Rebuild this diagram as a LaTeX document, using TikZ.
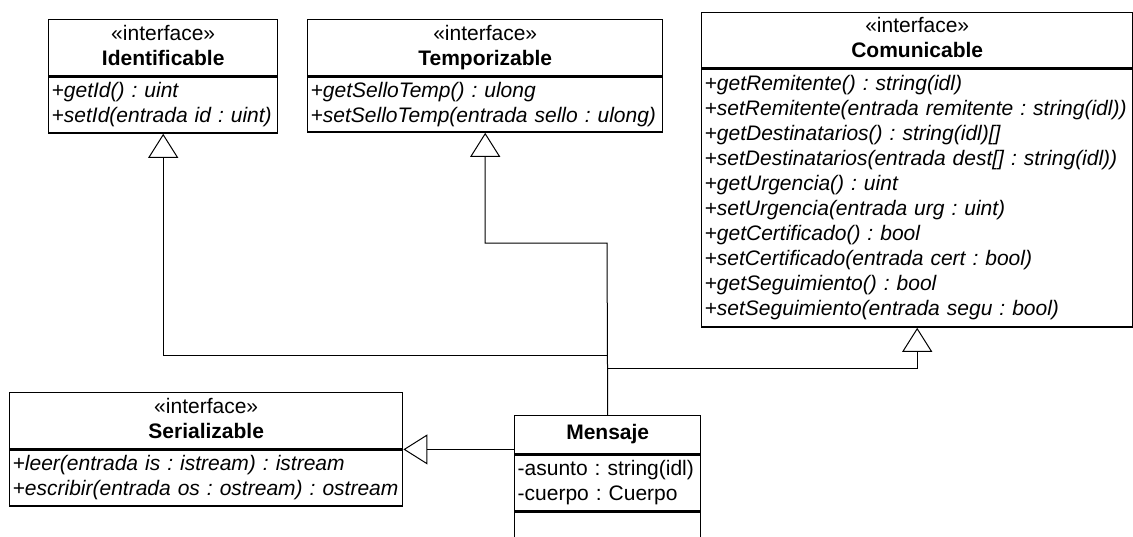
\documentclass[tikz,border=0pt]{standalone}
\usepackage{fontspec}
\setmainfont{Liberation Sans}
\usetikzlibrary{arrows.meta}
\frenchspacing
\begin{document}
\begin{tikzpicture}[x=1pt,y=-1pt,
  every node/.style={font=\fontsize{21}{25}\selectfont},
  comp/.style={draw, line width=1.4pt, anchor=north west, inner xsep=3pt, inner ysep=0pt, align=left},
  head/.style={comp, align=center},
  ops/.style={comp, font=\fontsize{21}{25}\selectfont\itshape},
  gen/.style={line width=1pt, -{Triangle[open, length=24pt, width=30pt, line width=1pt]}}]
\fill[white] (0,0) rectangle (1133,536);
\useasboundingbox (0,0) rectangle (1133,536);

% Identificable
\node[head, text width=223pt, minimum height=56pt] (iH) at (48,19)
  {\strut«interface»\\\strut\bfseries Identificable};
\node[ops, text width=223pt, minimum height=56pt] (iB) at (iH.south west)
  {\strut+getId() : uint\\\strut+setId(entrada id : uint)};

% Temporizable
\node[head, text width=349pt, minimum height=56pt] (tH) at (307,19)
  {\strut«interface»\\\strut\bfseries Temporizable};
\node[ops, text width=349pt, minimum height=55pt] (tB) at (tH.south west)
  {\strut+getSelloTemp() : ulong\\\strut+setSelloTemp(entrada sello : ulong)};

% Comunicable
\node[head, text width=425pt, minimum height=55pt] (cH) at (701,12)
  {\strut«interface»\\\strut\bfseries Comunicable};
\node[ops, text width=425pt, minimum height=258pt] (cB) at (cH.south west)
  {\strut+getRemitente() : string(idl)\\
   \strut+setRemitente(entrada remitente : string(idl))\\
   \strut+getDestinatarios() : string(idl)[]\\
   \strut+setDestinatarios(entrada dest[] : string(idl))\\
   \strut+getUrgencia() : uint\\
   \strut+setUrgencia(entrada urg : uint)\\
   \strut+getCertificado() : bool\\
   \strut+setCertificado(entrada cert : bool)\\
   \strut+getSeguimiento() : bool\\
   \strut+setSeguimiento(entrada segu : bool)};

% Serializable
\node[head, text width=387pt, minimum height=56pt] (sH) at (9,392)
  {\strut«interface»\\\strut\bfseries Serializable};
\node[ops, text width=387pt, minimum height=56pt] (sB) at (sH.south west)
  {\strut+leer(entrada is : istream) : istream\\\strut+escribir(entrada os : ostream) : ostream};

% Mensaje
\node[head, text width=180pt, minimum height=38pt] (mH) at (514,415)
  {\strut\bfseries Mensaje};
\node[comp, text width=180pt, minimum height=56pt] (mA) at (mH.south west)
  {\strut-asunto : string(idl)\\\strut-cuerpo : Cuerpo};
\node[comp, text width=180pt, minimum height=40pt] (mO) at (mA.south west) {};

% generalisation connectors
\coordinate (jT) at (607,243);
\coordinate (jI) at (607,355);
\coordinate (jC) at (607,368);
\draw[gen] (mH.north) -- (jT) -| (tB.south);
\draw[gen] (jI) -| (iB.south);
\draw[gen] (jC) -| (cB.south);
\draw[gen] (mH.west |- sH.south east) -- (sH.south east);
\end{tikzpicture}
\end{document}
